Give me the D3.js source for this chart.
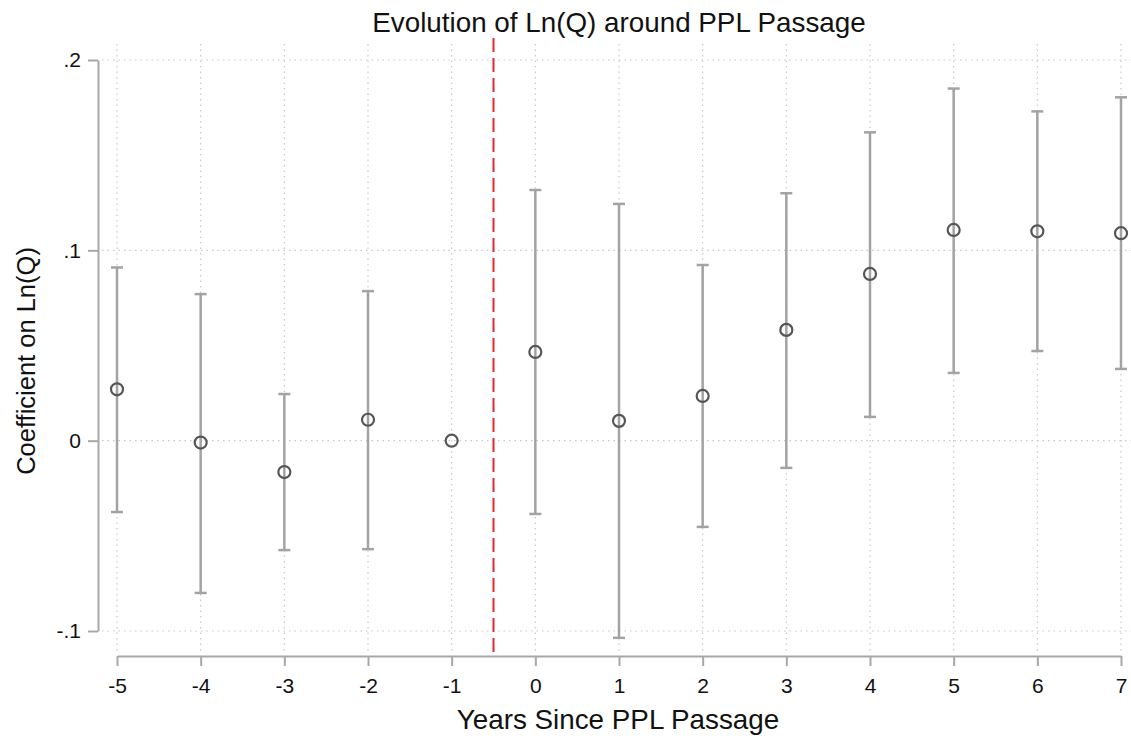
<!DOCTYPE html>
<html>
<head>
<meta charset="utf-8">
<script src="https://cdn.jsdelivr.net/npm/d3@7"></script>
<style>
	body { margin: 0; background: #fff; }
	svg, svg text { font-family: 'Liberation Sans', Arial, sans-serif; }
	.grid line { stroke: #c8c8c8; stroke-width: 1.2; stroke-dasharray: 1.5 4; }
</style>
</head>
<body>
<svg id="chart" width="1131" height="738"></svg>
<script>
// event-study estimates
var years = [-5, -4, -3, -2, -1, 0, 1, 2, 3, 4, 5, 6, 7];
var coef = [0.027, -0.001, -0.0165, 0.011, 0, 0.0466, 0.0104, 0.0235, 0.0582, 0.0876, 0.1107, 0.110, 0.109];
var upper = [0.091, 0.077, 0.0245, 0.0786, null, 0.1317, 0.1244, 0.0923, 0.130, 0.162, 0.185, 0.173, 0.1804];
var lower = [-0.0375, -0.080, -0.0575, -0.057, null, -0.0385, -0.1036, -0.0453, -0.0143, 0.0125, 0.0356, 0.0471, 0.0377];
var yTicks = [-0.1, 0, 0.1, 0.2];
var yTickLabels = ['-.1', '0', '.1', '.2'];
var eventLine = -0.5;

var svg = d3.select('#chart');

var xScale = d3.scaleLinear()
	.domain([-5, 7])
	.range([117, 1121]);

var yScale = d3.scaleLinear()
	.domain([-0.1, 0.2])
	.range([631, 60]);

var data = years.map((y, i) => ({year: y, b: coef[i], hi: upper[i], lo: lower[i]}));

// gridlines
var grid = svg.append('g').attr('class', 'grid');
grid.selectAll('.hgrid')
	.data(yTicks)
	.enter()
	.append('line')
	.attr('x1', 102)
	.attr('x2', 1131)
	.attr('y1', d => yScale(d))
	.attr('y2', d => yScale(d));
grid.selectAll('.vgrid')
	.data(years)
	.enter()
	.append('line')
	.attr('x1', d => xScale(d))
	.attr('x2', d => xScale(d))
	.attr('y1', 44)
	.attr('y2', 652);

// y axis
var yAxis = d3.axisLeft()
	.scale(yScale)
	.tickValues(yTicks)
	.tickFormat((d, i) => yTickLabels[i])
	.tickSize(10)
	.tickPadding(7)
	.tickSizeOuter(0);

var gy = svg.append('g')
	.attr('transform', 'translate(98, 0)')
	.call(yAxis);

// x axis, plain hyphen for negatives
var xAxis = d3.axisBottom()
	.scale(xScale)
	.tickValues(years)
	.tickFormat(d => String(d))
	.tickSize(10)
	.tickPadding(12)
	.tickSizeOuter(0);

var gx = svg.append('g')
	.attr('transform', 'translate(0, 656)')
	.call(xAxis);

[gx, gy].forEach(g => {
	g.attr('font-family', null).attr('font-size', null);
	g.select('.domain').attr('stroke', '#a8a8a8').attr('stroke-width', 2);
	g.selectAll('.tick line').attr('stroke', '#a8a8a8').attr('stroke-width', 2);
	g.selectAll('.tick text')
		.attr('fill', '#111')
		.style('font-family', "'Liberation Sans', Arial, sans-serif")
		.style('font-size', '21px');
});

// red dashed line
svg.append('line')
	.attr('x1', xScale(eventLine))
	.attr('x2', xScale(eventLine))
	.attr('y1', 38)
	.attr('y2', 652)
	.attr('stroke', '#e8262b')
	.attr('stroke-width', 2)
	.attr('stroke-dasharray', '14 6');

// error bars
var bars = data.filter(d => d.hi !== null);
var ci = svg.append('g')
	.attr('stroke', '#a3a3a3')
	.attr('stroke-width', 2.5);

ci.selectAll('.ci')
	.data(bars)
	.enter()
	.append('line')
	.attr('x1', d => xScale(d.year))
	.attr('x2', d => xScale(d.year))
	.attr('y1', d => yScale(d.hi))
	.attr('y2', d => yScale(d.lo));

ci.selectAll('.cap-hi')
	.data(bars)
	.enter()
	.append('line')
	.attr('x1', d => xScale(d.year) - 6)
	.attr('x2', d => xScale(d.year) + 6)
	.attr('y1', d => yScale(d.hi))
	.attr('y2', d => yScale(d.hi));

ci.selectAll('.cap-lo')
	.data(bars)
	.enter()
	.append('line')
	.attr('x1', d => xScale(d.year) - 6)
	.attr('x2', d => xScale(d.year) + 6)
	.attr('y1', d => yScale(d.lo))
	.attr('y2', d => yScale(d.lo));

// point estimates
svg.selectAll('.pt')
	.data(data)
	.enter()
	.append('circle')
	.attr('cx', d => xScale(d.year))
	.attr('cy', d => yScale(d.b))
	.attr('r', 6)
	.attr('fill', 'none')
	.attr('stroke', '#555')
	.attr('stroke-width', 2.2);

// titles
svg.append('text')
	.text('Evolution of Ln(Q) around PPL Passage')
	.attr('x', 619)
	.attr('y', 32)
	.style('text-anchor', 'middle')
	.style('font-size', '27.8px')
	.attr('fill', '#111');

svg.append('text')
	.text('Years Since PPL Passage')
	.attr('x', 618)
	.attr('y', 729)
	.style('text-anchor', 'middle')
	.style('font-size', '27.8px')
	.attr('fill', '#111');

svg.append('text')
	.text('Coefficient on Ln(Q)')
	.attr('transform', 'translate(35, 361) rotate(-90)')
	.style('text-anchor', 'middle')
	.style('font-size', '25.5px')
	.attr('fill', '#111');
</script>
</body>
</html>
